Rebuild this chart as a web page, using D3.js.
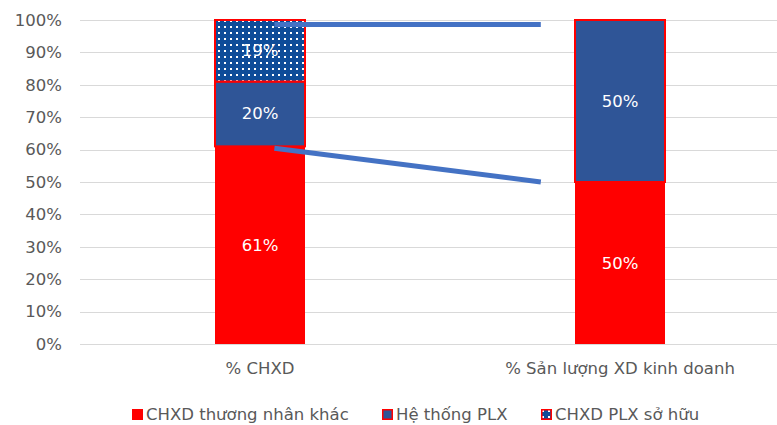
<!DOCTYPE html>
<html>
<head>
<meta charset="utf-8">
<script src="https://cdn.jsdelivr.net/npm/d3@7"></script>
<style>
  body { margin: 0; background: #fff; }
  text { font-family: "DejaVu Sans", sans-serif; }
</style>
</head>
<body>
<div id="chart"></div>
<script>
// categories and series (percent)
var categories = ['% CHXD', '% Sản lượng XD kinh doanh'];
var seriesNames = ['CHXD thương nhân khác', 'Hệ thống PLX', 'CHXD PLX sở hữu'];
var otherTraders = [61, 50];
var plxSystem = [20, 50];
var plxOwned = [19, 0];
var yTicks = [0, 10, 20, 30, 40, 50, 60, 70, 80, 90, 100];

// connector lines: x as category position (0 = first bar, 1 = second bar), y in percent
var connX0 = [0.04, 0.04];
var connX1 = [0.78, 0.78];
var connY0 = [98.6, 60.4];
var connY1 = [98.6, 50];

var width = 777, height = 425;
var margin = {top: 20, left: 80, bottom: 81};
var plotW = 720, plotH = height - margin.top - margin.bottom; // 0% line at y=344

var svg = d3.select("#chart")
    .append("svg")
    .attr("width", width)
    .attr("height", height);

// dotted fill
var defs = svg.append("defs");
var pat = defs.append("pattern")
    .attr("id", "dots")
    .attr("patternUnits", "userSpaceOnUse")
    .attr("width", 6)
    .attr("height", 6);
pat.append("rect").attr("width", 6).attr("height", 6).attr("fill", "#0E4C99");
pat.append("rect").attr("x", 2).attr("y", 2).attr("width", 2).attr("height", 2).attr("fill", "#fff");

var colors = ['#FF0000', '#2F5597', 'url(#dots)'];

var x = d3.scaleBand()
    .domain(categories)
    .range([margin.left, margin.left + plotW])
    .paddingInner(0.75)
    .paddingOuter(0.375);

var y = d3.scaleLinear()
    .domain([0, 100])
    .range([margin.top + plotH, margin.top]);

// position along categories for connector lines
var xPos = d3.scaleLinear()
    .domain([0, 1])
    .range([x(categories[0]) + x.bandwidth() / 2, x(categories[1]) + x.bandwidth() / 2]);

// gridlines
svg.append("g")
    .selectAll("line")
    .data(yTicks)
    .enter()
    .append("line")
    .attr("x1", margin.left)
    .attr("x2", margin.left + plotW)
    .attr("y1", function(d) { return Math.round(y(d)) + 0.5; })
    .attr("y2", function(d) { return Math.round(y(d)) + 0.5; })
    .attr("stroke", "#D9D9D9")
    .attr("stroke-width", 1);

// y axis labels
var yAxis = svg.append("g")
    .attr("transform", "translate(" + (margin.left - 16) + ",0)")
    .call(d3.axisLeft(y).tickValues(yTicks).tickSize(0).tickFormat(function(d) { return d + "%"; }));
yAxis.select(".domain").remove();
yAxis.selectAll("text")
    .attr("x", -2)
    .style("font-family", "\"DejaVu Sans\", sans-serif")
    .style("font-size", "16.5px")
    .attr("fill", "#595959");

// x axis labels
var xAxis = svg.append("g")
    .attr("transform", "translate(0," + (margin.top + plotH) + ")")
    .call(d3.axisBottom(x).tickSize(0));
xAxis.select(".domain").remove();
xAxis.selectAll("text")
    .attr("y", 18)
    .style("font-family", "\"DejaVu Sans\", sans-serif")
    .style("font-size", "16.5px")
    .attr("fill", "#595959");

// stacked data
var table = categories.map(function(c, i) {
    return {cat: c, s0: otherTraders[i], s1: plxSystem[i], s2: plxOwned[i]};
});
var stack = d3.stack().keys(['s0', 's1', 's2']);
var layers = stack(table);

var bars = svg.append("g");
layers.forEach(function(layer, k) {
    bars.selectAll("rect.l" + k)
        .data(layer.filter(function(d) { return d[1] - d[0] > 0; }))
        .enter()
        .append("rect")
        .attr("x", function(d) { return x(d.data.cat); })
        .attr("y", function(d) { return y(d[1]); })
        .attr("width", x.bandwidth())
        .attr("height", function(d) { return y(d[0]) - y(d[1]); })
        .attr("fill", colors[k])
        .attr("stroke", "#FF0000")
        .attr("stroke-width", k == 0 ? 0 : 2);
});

// value labels
layers.forEach(function(layer, k) {
    bars.selectAll("text.l" + k)
        .data(layer.filter(function(d) { return d[1] - d[0] > 0; }))
        .enter()
        .append("text")
        .attr("x", function(d) { return x(d.data.cat) + x.bandwidth() / 2; })
        .attr("y", function(d) { return y((d[0] + d[1]) / 2); })
        .attr("text-anchor", "middle")
        .attr("dominant-baseline", "central")
        .attr("fill", "#fff")
        .style("font-size", "16.5px")
        .text(function(d) { return (d[1] - d[0]) + "%"; });
});

// connector lines
svg.append("g")
    .selectAll("line")
    .data(connY0)
    .enter()
    .append("line")
    .attr("x1", function(d, i) { return xPos(connX0[i]); })
    .attr("x2", function(d, i) { return xPos(connX1[i]); })
    .attr("y1", function(d) { return y(d); })
    .attr("y2", function(d, i) { return y(connY1[i]); })
    .attr("stroke", "#4472C4")
    .attr("stroke-width", 5);

// legend
var legendX = [132, 382, 541];
var legend = svg.append("g").attr("transform", "translate(0,414)");
seriesNames.forEach(function(name, i) {
    legend.append("rect")
        .attr("x", legendX[i] + 0.75)
        .attr("y", -4.25)
        .attr("width", 9.5)
        .attr("height", 9.5)
        .attr("fill", colors[i])
        .attr("stroke", "#FF0000")
        .attr("stroke-width", 1.5);
    legend.append("text")
        .attr("x", legendX[i] + 14)
        .attr("y", 0)
        .attr("dominant-baseline", "central")
        .attr("fill", "#595959")
        .style("font-size", "16.5px")
        .text(name);
});
</script>
</body>
</html>
